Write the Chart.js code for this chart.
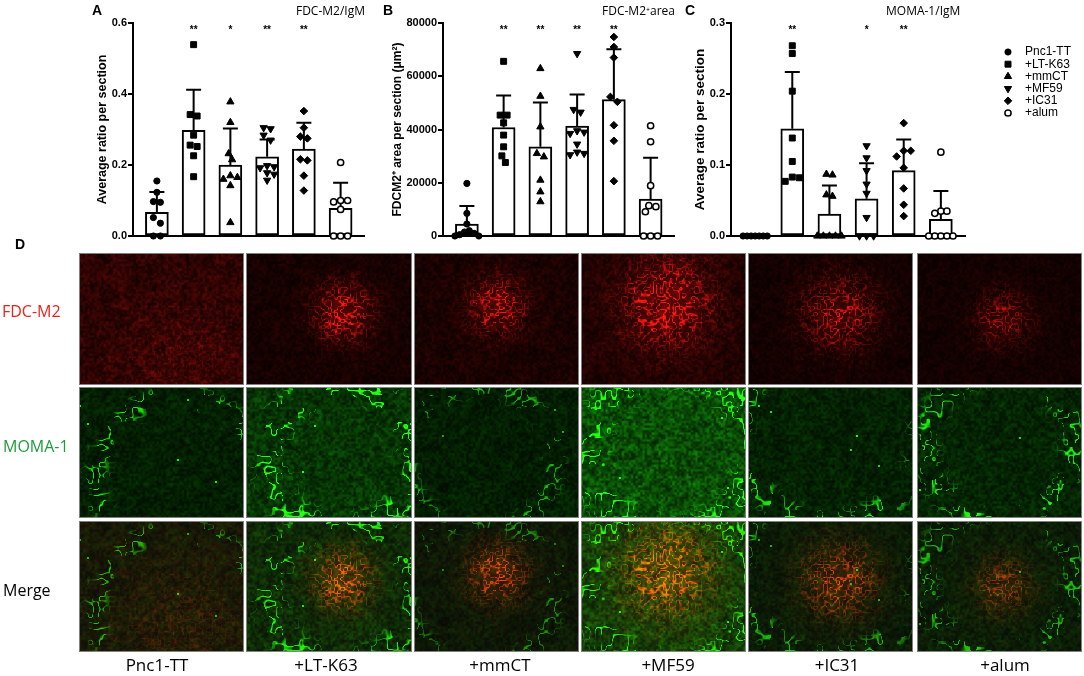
<!DOCTYPE html>
<html><head><meta charset="utf-8">
<script src="https://cdn.jsdelivr.net/npm/chart.js@4.4.1/dist/chart.umd.min.js"></script>
<style>
html,body{margin:0;padding:0;background:#fff;}
#page{position:relative;width:1084px;height:676px;overflow:hidden;background:#fff;}
.t{position:absolute;white-space:nowrap;line-height:1;color:#000;}
.lt{font-family:"Liberation Sans",Arial,sans-serif;font-weight:bold;font-size:14px;}
.ti{font-family:"Open Sans","Noto Sans",sans-serif;font-size:12px;}
.rl{font-family:"Open Sans","Noto Sans",sans-serif;font-size:16px;}
.cl{font-family:"Open Sans","Noto Sans",sans-serif;font-size:17px;transform:translateX(-50%);}
canvas{position:absolute;}
</style></head>
<body><div id="page">
<canvas id="micro" width="1084" height="676" style="left:0;top:0"></canvas>
<canvas id="cA" width="310" height="250" style="left:60px;top:0"></canvas>
<canvas id="cB" width="310" height="250" style="left:370px;top:0"></canvas>
<canvas id="cC" width="404" height="250" style="left:680px;top:0"></canvas>

<div class="t lt" style="left:92px;top:3px">A</div>
<div class="t lt" style="left:383px;top:3px">B</div>
<div class="t lt" style="left:685px;top:3px">C</div>
<div class="t lt" style="left:15px;top:237px">D</div>
<div class="t ti" style="right:719px;top:5px">FDC-M2/IgM</div>
<div class="t ti" style="right:409px;top:5px">FDC-M2⁺area</div>
<div class="t ti" style="left:886px;top:5px">MOMA-1/IgM</div>
<div class="t rl" style="left:2px;top:303px;color:#e8231d">FDC-M2</div>
<div class="t rl" style="left:3px;top:438px;color:#1f9c3a">MOMA-1</div>
<div class="t rl" style="left:3px;top:582px">Merge</div>
<div id="collabels"></div>
</div>
<script>
// ---------------- DATA ----------------
const groups = ['Pnc1-TT', '+LT-K63', '+mmCT', '+MF59', '+IC31', '+alum'];

// Panel A: FDC-M2/IgM
const meanA = [0.067, 0.298, 0.200, 0.223, 0.245, 0.078];
const sdA   = [0.057, 0.114, 0.103, 0.049, 0.074, 0.072];
const starsA = ['', '**', '*', '**', '**', ''];
const ticksA = [0, 0.2, 0.4, 0.6];
const pointsA = [
  [0.155, 0.123, 0.097, 0.095, 0.052, 0.036, 0, 0],
  [0.539, 0.342, 0.338, 0.284, 0.256, 0.252, 0.226, 0.167],
  [0.378, 0.320, 0.232, 0.215, 0.170, 0.165, 0.160, 0.142, 0.038],
  [0.305, 0.302, 0.284, 0.270, 0.198, 0.195, 0.192, 0.178, 0.174, 0.157],
  [0.352, 0.305, 0.280, 0.275, 0.216, 0.213, 0.170, 0.128],
  [0.207, 0.100, 0.096, 0.100, 0.075, 0, 0, 0]
];

// Panel B: FDC-M2+ area
const meanB = [4500, 40750, 33500, 41250, 51250, 13875];
const sdB   = [6750, 12000, 16625, 11875, 18875, 15500];
const starsB = ['', '**', '**', '**', '**', ''];
const ticksB = [0, 20000, 40000, 60000, 80000];
const pointsB = [
  [19750, 8500, 4500, 2000, 1500, 1000, 500, 0, 0],
  [65600, 45400, 45400, 42500, 37900, 33500, 30100, 27600],
  [62900, 52500, 41000, 31000, 29750, 21000, 16600, 12900],
  [68500, 47500, 46500, 39500, 39000, 38500, 34500, 31500, 31000, 30500],
  [74750, 71000, 67000, 52250, 50400, 41600, 35750, 20600],
  [41400, 35400, 18900, 11400, 11000, 9100, 0, 0, 0]
];

// Panel C: MOMA-1/IgM
const meanC = [0, 0.151, 0.031, 0.0525, 0.092, 0.0234];
const sdC   = [0, 0.080, 0.040, 0.050, 0.044, 0.040];
const starsC = ['', '**', '', '*', '**', ''];
const ticksC = [0, 0.1, 0.2, 0.3];
const pointsC = [
  [0, 0, 0, 0, 0, 0, 0],
  [0.268, 0.257, 0.204, 0.138, 0.105, 0.083, 0.082, 0.077],
  [0.087, 0.086, 0.058, 0.056, 0, 0, 0, 0, 0],
  [0.127, 0.110, 0.092, 0.073, 0.060, 0.026, 0, 0, 0],
  [0.159, 0.120, 0.120, 0.112, 0.096, 0.067, 0.044, 0.028],
  [0.118, 0.035, 0.035, 0.032, 0, 0, 0, 0, 0]
];

// ---------------- STYLE ----------------
const FONT = '"Liberation Sans", Arial, sans-serif';
const styles = [
  {pointStyle: 'circle',   rotation: 0,   radius: 3.1, bg: '#000', bw: 1},
  {pointStyle: 'rect',     rotation: 0,   radius: 4.2, bg: '#000', bw: 1},
  {pointStyle: 'triangle', rotation: 0,   radius: 4.2, bg: '#000', bw: 1},
  {pointStyle: 'triangle', rotation: 180, radius: 4.2, bg: '#000', bw: 1},
  {pointStyle: 'rectRot',  rotation: 0,   radius: 3.8, bg: '#000', bw: 1},
  {pointStyle: 'circle',   rotation: 0,   radius: 3.1, bg: '#fff', bw: 1.5}
];

// beeswarm-like horizontal spreading of overlapping points (pixel units)
function swarm(vals, yPx, d, maxHalf) {
  const idx = vals.map((v, i) => i).sort((a, b) => vals[b] - vals[a]);
  const xs = new Array(vals.length).fill(0);
  const placed = [];
  const cands = [0];
  for (let k = 1; k <= 20; k++) cands.push(k * d / 2, -k * d / 2);
  idx.forEach(i => {
    const y = vals[i] * yPx;
    for (const c of cands) {
      if (placed.every(p => (p.x - c) ** 2 + (p.y - y) ** 2 >= d * d * 0.95)) {
        xs[i] = c; placed.push({x: c, y}); break;
      }
    }
  });
  let start = 0;
  for (let k = 1; k <= idx.length; k++) {
    if (k === idx.length || (vals[idx[k - 1]] - vals[idx[k]]) * yPx >= d) {
      const cl = idx.slice(start, k);
      const mn = Math.min(...cl.map(i => xs[i])), mx = Math.max(...cl.map(i => xs[i]));
      const sh = (mn + mx) / 2;
      cl.forEach(i => { xs[i] -= sh; });
      start = k;
    }
  }
  const m = Math.max(...xs.map(Math.abs));
  const f = m > maxHalf ? maxHalf / m : 1;
  return xs.map(x => x * f);
}

const errPlugin = {
  id: 'errs',
  beforeDatasetsDraw(chart, args, o) {
    const {ctx} = chart, x = chart.scales.x, y = chart.scales.y;
    ctx.save();
    ctx.strokeStyle = '#000'; ctx.lineWidth = 2;
    o.means.forEach((m, i) => {
      if (!o.sds[i]) return;
      const px = x.getPixelForValue(i);
      const y0 = y.getPixelForValue(m), y1 = y.getPixelForValue(m + o.sds[i]);
      ctx.beginPath();
      ctx.moveTo(px, y0); ctx.lineTo(px, y1);
      ctx.moveTo(px - 7.5, y1); ctx.lineTo(px + 7.5, y1);
      ctx.stroke();
    });
    ctx.restore();
  },
  afterDatasetsDraw(chart, args, o) {
    const {ctx} = chart, x = chart.scales.x;
    ctx.save();
    ctx.fillStyle = '#000';
    ctx.font = 'bold 10px ' + FONT;
    ctx.textAlign = 'center'; ctx.textBaseline = 'middle';
    o.stars.forEach((s, i) => {
      if (s) ctx.fillText(s, x.getPixelForValue(i), chart.chartArea.top + 7);
    });
    ctx.restore();
  }
};

const legendPlugin = {
  id: 'lg',
  afterDraw(chart) {
    const ctx = chart.ctx;
    ctx.save();
    groups.forEach((g, i) => {
      const st = styles[i];
      const y = 52 + i * 12.2;
      ctx.fillStyle = st.bg; ctx.strokeStyle = '#000'; ctx.lineWidth = st.bw;
      Chart.helpers.drawPoint(ctx, {pointStyle: st.pointStyle, rotation: st.rotation, radius: st.radius, borderWidth: st.bw}, 328, y);
      ctx.fillStyle = '#000';
      ctx.font = '12px ' + FONT;
      ctx.textAlign = 'left'; ctx.textBaseline = 'middle';
      ctx.fillText(g, 345, y);
    });
    ctx.restore();
  }
};

function makeChart(id, o) {
  const yPx = 213.3 / o.yMax, xPx = 36.8;
  const ds = o.points.map((vals, g) => {
    const offs = swarm(vals, yPx, 7, 12);
    const st = styles[g];
    return {
      type: 'scatter', label: groups[g],
      data: vals.map((v, k) => ({x: g + offs[k] / xPx, y: v})),
      pointStyle: st.pointStyle, rotation: st.rotation, pointRadius: st.radius,
      pointBackgroundColor: st.bg, pointBorderColor: '#000', pointBorderWidth: st.bw,
      clip: false, order: 0
    };
  });
  ds.push({
    type: 'bar', label: 'mean', data: o.means.map((m, g) => ({x: g, y: m})),
    backgroundColor: '#fff', borderColor: '#000', borderWidth: 2, borderSkipped: false,
    barThickness: 23, order: 10, clip: false
  });
  return new Chart(document.getElementById(id), {
    type: 'bar',
    data: {datasets: ds},
    options: {
      responsive: false, animation: false, events: [],
      layout: {padding: {left: 0, top: 23, right: o.padRight, bottom: 14}},
      plugins: {
        legend: {display: false}, tooltip: {enabled: false},
        errs: {means: o.means, sds: o.sds, stars: o.stars}
      },
      scales: {
        x: {
          type: 'linear', min: -0.65, max: 5.65, offset: false,
          ticks: {display: false}, grid: {display: false},
          border: {display: true, color: '#000', width: 2},
          afterFit: s => { s.height = 0; }
        },
        y: {
          type: 'linear', min: 0, max: o.yMax,
          afterBuildTicks: s => { s.ticks = o.ticks.map(v => ({value: v})); },
          ticks: {color: '#000', padding: 1, font: {family: FONT, size: 11, weight: 'bold'}, callback: v => o.fmt(v)},
          grid: {display: true, drawOnChartArea: false, drawTicks: true, tickLength: 5, color: '#000', lineWidth: 2},
          border: {display: true, color: '#000', width: 2},
          title: {display: true, text: o.yTitle, color: '#000', font: {family: FONT, size: o.titleSize, weight: 'bold'}, padding: {top: o.titlePad, bottom: 0}},
          afterFit: s => { s.width = o.yWidth; }
        }
      }
    },
    plugins: o.legend ? [errPlugin, legendPlugin] : [errPlugin]
  });
}

makeChart('cA', {means: meanA, sds: sdA, points: pointsA, stars: starsA, ticks: ticksA, yMax: 0.6,
  fmt: v => v.toFixed(1), yTitle: 'Average ratio per section', yWidth: 73, titlePad: 35, titleSize: 12.5, padRight: 5});
makeChart('cB', {means: meanB, sds: sdB, points: pointsB, stars: starsB, ticks: ticksB, yMax: 80000,
  fmt: v => String(v), yTitle: 'FDCM2⁺ area per section (μm²)', yWidth: 73, titlePad: 20, titleSize: 12, padRight: 5});
makeChart('cC', {means: meanC, sds: sdC, points: pointsC, stars: starsC, ticks: ticksC, yMax: 0.3,
  fmt: v => v.toFixed(1), yTitle: 'Average ratio per section', yWidth: 51, titlePad: 12, titleSize: 13.5, padRight: 119, legend: true});

// ---------------- PANEL D (micrograph approximations) ----------------
const cols = [[79, 244], [246, 412], [414, 579], [581, 746], [748, 913], [917, 1082]];
const rows = [[253, 385], [387, 518], [521, 652]];
const labelX = [157, 326, 500, 668, 837, 1005];
const cellParams = [
  {rx: .62, ry: .80, rr: .50, ramp: 40,  rbg: 50, gx: .60, gy: .70, gr: .50, gw: .06, gbg: 34, gamp: 200},
  {rx: .58, ry: .45, rr: .20, ramp: 250, rbg: 26, gx: .58, gy: .55, gr: .44, gw: .09, gbg: 58, gamp: 240},
  {rx: .50, ry: .40, rr: .20, ramp: 230, rbg: 30, gx: .40, gy: .55, gr: .45, gw: .06, gbg: 32, gamp: 150},
  {rx: .52, ry: .38, rr: .31, ramp: 250, rbg: 38, gx: .55, gy: .50, gr: .50, gw: .10, gbg: 85, gamp: 230},
  {rx: .55, ry: .45, rr: .26, ramp: 200, rbg: 22, gx: .50, gy: .35, gr: .55, gw: .07, gbg: 36, gamp: 200},
  {rx: .52, ry: .50, rr: .20, ramp: 140, rbg: 22, gx: .50, gy: .45, gr: .45, gw: .07, gbg: 40, gamp: 200}
];

function hash(x, y, s) {
  let h = Math.imul(x, 374761393) ^ Math.imul(y, 668265263) ^ Math.imul(s + 1, 1274126177);
  h = Math.imul(h ^ (h >>> 13), 1274126177);
  h ^= h >>> 16;
  return (h >>> 0) / 4294967296;
}
function vnoise(x, y, sc, s) {
  const fx = x / sc, fy = y / sc;
  const ix = Math.floor(fx), iy = Math.floor(fy);
  const tx = fx - ix, ty = fy - iy;
  const sx = tx * tx * (3 - 2 * tx), sy = ty * ty * (3 - 2 * ty);
  const a = hash(ix, iy, s), b = hash(ix + 1, iy, s), c = hash(ix, iy + 1, s), d = hash(ix + 1, iy + 1, s);
  return a + (b - a) * sx + (c - a) * sy + (a - b - c + d) * sx * sy;
}
function drawCell(ctx, X, Y, W, H, p, row, seed) {
  const img = ctx.createImageData(W, H), d = img.data, asp = H / W;
  for (let j = 0; j < H; j++) {
    for (let i = 0; i < W; i++) {
      const u = i / W, v = j / H;
      const dx = u - p.rx, dy = (v - p.ry) * asp;
      const dr = Math.sqrt(dx * dx + dy * dy) / p.rr;
      const blob = Math.exp(-dr * dr * 1.6);
      const t1 = vnoise(i, j, 2.3, seed), t2 = vnoise(i, j, 6, seed + 5);
      const ridge = Math.max(0, 1 - Math.abs(vnoise(i, j, 3.2, seed + 11) - 0.5) / 0.16);
      const redBg = p.rbg * (0.35 + 1.0 * t1) * (0.75 + 0.5 * t2);
      const redBlob = p.ramp * blob * (0.15 + 1.0 * ridge * (0.5 + t1) + 0.15 * t2);
      const gdx = u - p.gx, gdy = (v - p.gy) * asp;
      const dg = Math.sqrt(gdx * gdx + gdy * gdy);
      const ring = Math.exp(-(((dg - p.gr) / p.gw) ** 2));
      const gl = Math.max(0, 1 - Math.abs(vnoise(i, j, 5.5, seed + 23) - 0.5) / 0.09);
      const gate = vnoise(i, j, 14, seed + 31) > 0.5 ? 1 : 0;
      const dots = hash(i >> 1, j >> 1, seed + 41) > 0.9993 ? 1 : 0;
      const gStrand = Math.min(1, ring * gl * gate * 1.5 + dots);
      const green = p.gbg * (0.45 + 0.9 * vnoise(i, j, 2.3, seed + 3)) * (0.75 + 0.5 * t2) + p.gamp * gStrand;
      let R, G, B;
      if (row === 0) { R = redBg + redBlob; G = (redBg + redBlob) * 0.08; B = (redBg + redBlob) * 0.06; }
      else if (row === 1) { R = green * 0.12; G = green; B = green * 0.06; }
      else { R = redBg * 0.45 + redBlob * 1.0 + green * 0.08; G = green * 0.8 + redBlob * 0.22; B = 6; }
      const k = (j * W + i) * 4;
      d[k] = Math.min(255, R); d[k + 1] = Math.min(255, G); d[k + 2] = Math.min(255, B); d[k + 3] = 255;
    }
  }
  ctx.putImageData(img, X, Y);
  ctx.strokeStyle = 'rgba(140,140,140,0.9)'; ctx.lineWidth = 1;
  ctx.strokeRect(X + 0.5, Y + 0.5, W - 1, H - 1);
}
(function () {
  const ctx = document.getElementById('micro').getContext('2d');
  rows.forEach((r, ri) => {
    cols.forEach((c, ci) => {
      drawCell(ctx, c[0], r[0], c[1] - c[0], r[1] - r[0], cellParams[ci], ri, ci * 7 + 3);
    });
  });
  const holder = document.getElementById('collabels');
  groups.forEach((g, i) => {
    const el = document.createElement('div');
    el.className = 't cl';
    el.style.left = labelX[i] + 'px';
    el.style.top = '656px';
    el.textContent = g;
    holder.appendChild(el);
  });
})();
</script>
</body></html>
